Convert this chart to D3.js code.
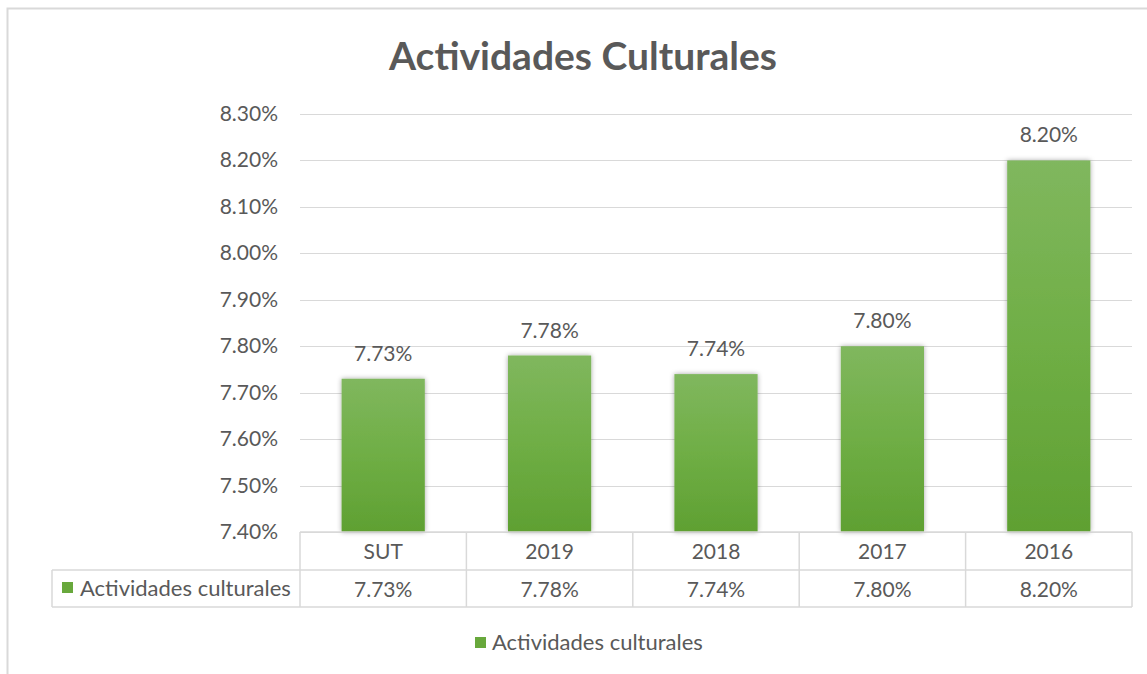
<!DOCTYPE html>
<html>
<head>
<meta charset="utf-8">
<script src="https://cdn.jsdelivr.net/npm/d3@7"></script>
<style>
  body { margin: 0; background: #fff; }
  svg text { font-family: Lato, "Open Sans", sans-serif; fill: #595959; }
</style>
</head>
<body>
<div id="chart"></div>
<script>
// Data
const categories = ['SUT', '2019', '2018', '2017', '2016'];
const values = [7.73, 7.78, 7.74, 7.80, 8.20];
const seriesName = 'Actividades culturales';
const yTicks = [7.40, 7.50, 7.60, 7.70, 7.80, 7.90, 8.00, 8.10, 8.20, 8.30];

const width = 1147, height = 674;
const margin = { left: 300, right: 15, top: 114, bottom: 142 };

const svg = d3.select('#chart')
  .append('svg')
  .attr('width', width)
  .attr('height', height);

// Gradient + shadow for bars
const defs = svg.append('defs');
const grad = defs.append('linearGradient')
  .attr('id', 'barGrad')
  .attr('x1', 0).attr('y1', 0).attr('x2', 0).attr('y2', 1);
grad.append('stop').attr('offset', '0%').attr('stop-color', '#80b75e');
grad.append('stop').attr('offset', '50%').attr('stop-color', '#6fae45');
grad.append('stop').attr('offset', '100%').attr('stop-color', '#5fa032');

const shadow = defs.append('filter').attr('id', 'shadow')
  .attr('x', '-20%').attr('y', '-10%').attr('width', '140%').attr('height', '120%');
shadow.append('feDropShadow')
  .attr('dx', 0).attr('dy', 0).attr('stdDeviation', 2.5)
  .attr('flood-color', '#000').attr('flood-opacity', 0.35);

// Outer border
svg.append('rect')
  .attr('x', 7.5).attr('y', 8.5)
  .attr('width', width + 10).attr('height', height + 10)
  .attr('fill', 'none').attr('stroke', '#d9d9d9').attr('stroke-width', 2);

// Title
svg.append('text')
  .attr('x', 583).attr('y', 70)
  .attr('text-anchor', 'middle')
  .attr('font-size', 39).attr('font-weight', 'bold')
  .text('Actividades Culturales');

const x = d3.scaleBand()
  .domain(categories)
  .range([margin.left, 1132])
  .paddingInner(0).paddingOuter(0);

const y = d3.scaleLinear()
  .domain([7.40, 8.30])
  .range([532, 114]);

// Gridlines
svg.append('g')
  .selectAll('line')
  .data(yTicks)
  .join('line')
  .attr('x1', margin.left).attr('x2', 1132)
  .attr('y1', d => Math.round(y(d)) + 0.5)
  .attr('y2', d => Math.round(y(d)) + 0.5)
  .attr('stroke', '#d9d9d9').attr('stroke-width', 1);

// Y tick labels
svg.append('g')
  .selectAll('text')
  .data(yTicks)
  .join('text')
  .attr('x', 278)
  .attr('y', d => y(d) + 7)
  .attr('text-anchor', 'end')
  .attr('font-size', 21)
  .text(d => d.toFixed(2) + '%');

// Bars
const barW = x.bandwidth() / 2;
svg.append('g')
  .selectAll('rect')
  .data(values)
  .join('rect')
  .attr('x', (d, i) => x(categories[i]) + x.bandwidth() / 2 - barW / 2)
  .attr('y', d => y(d))
  .attr('width', barW)
  .attr('height', d => y(7.40) - y(d))
  .attr('fill', 'url(#barGrad)')
  .attr('filter', 'url(#shadow)');

// Data labels
svg.append('g')
  .selectAll('text')
  .data(values)
  .join('text')
  .attr('x', (d, i) => x(categories[i]) + x.bandwidth() / 2)
  .attr('y', d => y(d) - 18)
  .attr('text-anchor', 'middle')
  .attr('font-size', 21)
  .text(d => d.toFixed(2) + '%');

// Data table
const rowTop = 532, rowMid = 570, rowBot = 607, tableLeft = 52;
const table = svg.append('g')
  .attr('stroke', '#d9d9d9').attr('stroke-width', 1.5).attr('fill', 'none');
table.append('line').attr('x1', margin.left).attr('x2', 1132).attr('y1', rowTop).attr('y2', rowTop);
table.append('line').attr('x1', tableLeft).attr('x2', 1132).attr('y1', rowMid).attr('y2', rowMid);
table.append('line').attr('x1', tableLeft).attr('x2', 1132).attr('y1', rowBot).attr('y2', rowBot);
table.append('line').attr('x1', tableLeft).attr('x2', tableLeft).attr('y1', rowMid).attr('y2', rowBot);
table.selectAll('line.v')
  .data(categories.map(c => x(c)).concat([1132]))
  .join('line')
  .attr('class', 'v')
  .attr('x1', d => d).attr('x2', d => d)
  .attr('y1', rowTop).attr('y2', rowBot);

svg.append('g')
  .selectAll('text')
  .data(categories)
  .join('text')
  .attr('x', d => x(d) + x.bandwidth() / 2)
  .attr('y', 559)
  .attr('text-anchor', 'middle')
  .attr('font-size', 21)
  .text(d => d);

svg.append('g')
  .selectAll('text')
  .data(values)
  .join('text')
  .attr('x', (d, i) => x(categories[i]) + x.bandwidth() / 2)
  .attr('y', 597)
  .attr('text-anchor', 'middle')
  .attr('font-size', 21)
  .text(d => d.toFixed(2) + '%');

svg.append('rect')
  .attr('x', 62).attr('y', 582).attr('width', 11).attr('height', 11)
  .attr('fill', '#68a83c');
svg.append('text')
  .attr('x', 80).attr('y', 596)
  .attr('font-size', 22)
  .text(seriesName);

// Legend
svg.append('rect')
  .attr('x', 475).attr('y', 637).attr('width', 11).attr('height', 11)
  .attr('fill', '#68a83c');
svg.append('text')
  .attr('x', 492).attr('y', 650)
  .attr('font-size', 22)
  .text(seriesName);
</script>
</body>
</html>
